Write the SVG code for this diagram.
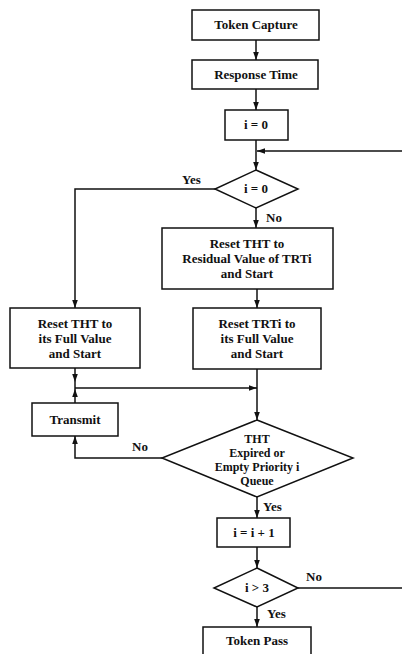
<svg xmlns="http://www.w3.org/2000/svg" width="402" height="654" viewBox="0 0 402 654">
<defs>
<style>
.box{fill:#fff;stroke:#111;stroke-width:1.5}
.ln{fill:none;stroke:#111;stroke-width:1.5}
text{font-family:"Liberation Serif","Times New Roman",serif;font-size:13px;font-weight:bold;fill:#111;text-anchor:middle}
.lbl{text-anchor:start}
.sm{font-size:12px}
</style>
<marker id="ah" markerWidth="8" markerHeight="11" refX="10" refY="3.5" orient="auto" markerUnits="userSpaceOnUse" viewBox="0 0 10 7">
<path d="M0,0 L10,3.5 L0,7 Z" fill="#111"/>
</marker>
</defs>
<rect width="402" height="654" fill="#fff"/>
<g id="connectors">
<line class="ln" x1="256" y1="40" x2="256" y2="60" marker-end="url(#ah)"/>
<line class="ln" x1="256" y1="89" x2="256" y2="110" marker-end="url(#ah)"/>
<line class="ln" x1="256" y1="140" x2="256" y2="170" marker-end="url(#ah)"/>
<line class="ln" x1="402" y1="151" x2="257" y2="151" marker-end="url(#ah)"/>
<polyline class="ln" points="215,189 75,189 75,308" marker-end="url(#ah)"/>
<line class="ln" x1="256" y1="208" x2="256" y2="228" marker-end="url(#ah)"/>
<line class="ln" x1="257" y1="289" x2="257" y2="308" marker-end="url(#ah)"/>
<line class="ln" x1="75" y1="368" x2="75" y2="382" marker-end="url(#ah)"/>
<line class="ln" x1="75" y1="382" x2="75" y2="389"/>
<line class="ln" x1="75" y1="403" x2="75" y2="389" marker-end="url(#ah)"/>
<line class="ln" x1="75" y1="388" x2="257" y2="388" marker-end="url(#ah)"/>
<line class="ln" x1="257" y1="369" x2="257" y2="420" marker-end="url(#ah)"/>
<polyline class="ln" points="162,458 75,458 75,436" marker-end="url(#ah)"/>
<line class="ln" x1="257" y1="497" x2="257" y2="518" marker-end="url(#ah)"/>
<line class="ln" x1="257" y1="547" x2="257" y2="568" marker-end="url(#ah)"/>
<line class="ln" x1="298" y1="588" x2="402" y2="588"/>
<line class="ln" x1="257" y1="607" x2="257" y2="627" marker-end="url(#ah)"/>
<text class="lbl" x="182" y="184">Yes</text>
<text class="lbl" x="266" y="222">No</text>
<text class="lbl" x="132" y="451">No</text>
<text class="lbl" x="263" y="511">Yes</text>
<text class="lbl" x="306" y="581">No</text>
<text class="lbl" x="267" y="618">Yes</text>
</g>
<g id="token-capture">
<rect class="box" x="192" y="10" width="127" height="30"/>
<text x="256" y="29">Token Capture</text>
</g>
<g id="response-time">
<rect class="box" x="192" y="60" width="126" height="29"/>
<text x="256" y="79">Response Time</text>
</g>
<g id="i-init">
<rect class="box" x="225" y="110" width="63" height="30"/>
<text x="256" y="129">i = 0</text>
</g>
<g id="dec-i0">
<polygon class="box" points="256,170 298,189 256,208 215,189"/>
<text x="256" y="193">i = 0</text>
</g>
<g id="reset-residual">
<rect class="box" x="162" y="228" width="171" height="61"/>
<text x="247" y="248">Reset THT to</text>
<text x="247" y="263">Residual Value of TRTi</text>
<text x="247" y="278">and Start</text>
</g>
<g id="reset-full">
<rect class="box" x="10" y="308" width="130" height="60"/>
<text x="75" y="328">Reset THT to</text>
<text x="75" y="343">its Full Value</text>
<text x="75" y="358">and Start</text>
</g>
<g id="reset-trt">
<rect class="box" x="193" y="308" width="128" height="61"/>
<text x="257" y="328">Reset TRTi to</text>
<text x="257" y="343">its Full Value</text>
<text x="257" y="358">and Start</text>
</g>
<g id="transmit">
<rect class="box" x="32" y="403" width="86" height="33"/>
<text x="75" y="424">Transmit</text>
</g>
<g id="dec-tht">
<polygon class="box" points="257,420 353,458 257,497 162,458"/>
<text class="sm" x="257" y="443">THT</text>
<text class="sm" x="257" y="457">Expired or</text>
<text class="sm" x="257" y="471">Empty Priority i</text>
<text class="sm" x="257" y="485">Queue</text>
</g>
<g id="i-inc">
<rect class="box" x="217" y="518" width="73" height="29"/>
<text x="254" y="537">i = i + 1</text>
</g>
<g id="dec-i3">
<polygon class="box" points="257,568 298,588 257,607 214,588"/>
<text x="257" y="592">i &gt; 3</text>
</g>
<g id="token-pass">
<rect class="box" x="203" y="627" width="108" height="34"/>
<text x="257" y="645">Token Pass</text>
</g>
</svg>
